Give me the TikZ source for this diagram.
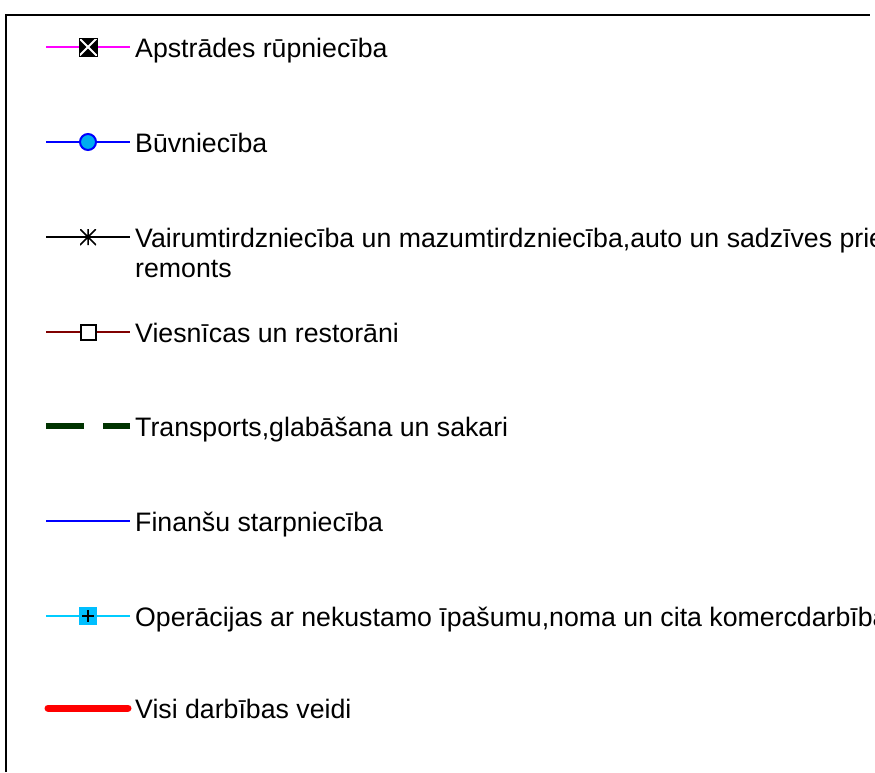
\documentclass[tikz,border=0pt]{standalone}
\usepackage{fontspec}
\setmainfont{Liberation Sans}
\usetikzlibrary{positioning, calc}

\definecolor{mfgline}{RGB}{255,0,255}
\definecolor{hotelline}{RGB}{128,0,0}
\definecolor{transline}{RGB}{0,51,0}
\definecolor{realline}{RGB}{0,204,255}
\definecolor{realfill}{RGB}{0,191,255}

\tikzset{
  lbl/.style={anchor=base west, inner sep=0pt, font=\fontsize{26.7}{30}\selectfont},
  xmark/.style={draw=black, fill=black, minimum size=18pt, inner sep=0pt,
    path picture={\draw[white, line width=2pt]
      (path picture bounding box.north west) -- (path picture bounding box.south east)
      (path picture bounding box.north east) -- (path picture bounding box.south west);}},
  omark/.style={circle, draw=blue, fill=cyan, line width=2pt, minimum size=16pt, inner sep=0pt},
  starmark/.style={minimum size=16pt, inner sep=0pt,
    path picture={\draw[black, line width=1.5pt]
      (path picture bounding box.north) -- (path picture bounding box.south)
      (path picture bounding box.north west) -- (path picture bounding box.south east)
      (path picture bounding box.north east) -- (path picture bounding box.south west);}},
  boxmark/.style={draw=black, fill=white, line width=2pt, minimum size=15pt, inner sep=0pt},
  plusmark/.style={fill=realfill, minimum size=18pt, inner sep=0pt,
    path picture={\draw[black, line width=2pt]
      ([yshift=-3pt]path picture bounding box.north) -- ([yshift=3pt]path picture bounding box.south)
      ([xshift=3pt]path picture bounding box.west) -- ([xshift=-3pt]path picture bounding box.east);}}
}

\begin{document}
\begin{tikzpicture}[x=1pt, y=-1pt]
\useasboundingbox (0,0) rectangle (875,772);
\begin{scope}
\clip (0,0) rectangle (875,772);

% frame, cut off on the right and at the bottom
\draw[line width=2pt] (6,772) -- (6,15) -- (870,15);

% line ends of the legend keys
\foreach \i/\y in {1/47, 2/142, 3/237, 4/332, 5/426, 6/521, 7/616, 8/708} {
    \coordinate (a\i) at (46,\y);
    \coordinate (b\i) at (130,\y);
}

% keys
\draw[mfgline, line width=2pt] (a1) -- (b1);
\node[xmark] (m1) at ($(a1)!0.5!(b1)$) {};
\draw[blue, line width=2pt] (a2) -- (b2);
\node[omark] (m2) at ($(a2)!0.5!(b2)$) {};
\draw[black, line width=2pt] (a3) -- (b3);
\node[starmark] (m3) at ($(a3)!0.5!(b3)$) {};
\draw[hotelline, line width=2pt] (a4) -- (b4);
\node[boxmark] (m4) at ($(a4)!0.5!(b4)$) {};
\draw[transline, line width=6pt] (a5) -- ++(38,0);
\draw[transline, line width=6pt] (b5) -- ++(-27,0);
\draw[blue, line width=2.5pt] (a6) -- (b6);
\draw[realline, line width=2pt] (a7) -- (b7);
\node[plusmark] (m7) at ($(a7)!0.5!(b7)$) {};
\draw[red, line width=7pt, line cap=round] ([xshift=2pt]a8) -- ([xshift=-2pt]b8);

% labels
\foreach \i/\A in {1/{Apstrādes rūpniecība},
                   2/{Būvniecība},
                   3/{Vairumtirdzniecība un mazumtirdzniecība,auto un sadzīves priekšmetu},
                   4/{Viesnīcas un restorāni},
                   5/{Transports,glabāšana un sakari},
                   6/{Finanšu starpniecība},
                   7/{Operācijas ar nekustamo īpašumu,noma un cita komercdarbība},
                   8/{Visi darbības veidi}
                   } {
    \node[lbl] (lbl\i) at ($(b\i)+(5,10)$) {\A};
}
\node[lbl] (lbl3b) at ([yshift=-30pt]lbl3.base west) {remonts};
\end{scope}
\end{tikzpicture}
\end{document}
